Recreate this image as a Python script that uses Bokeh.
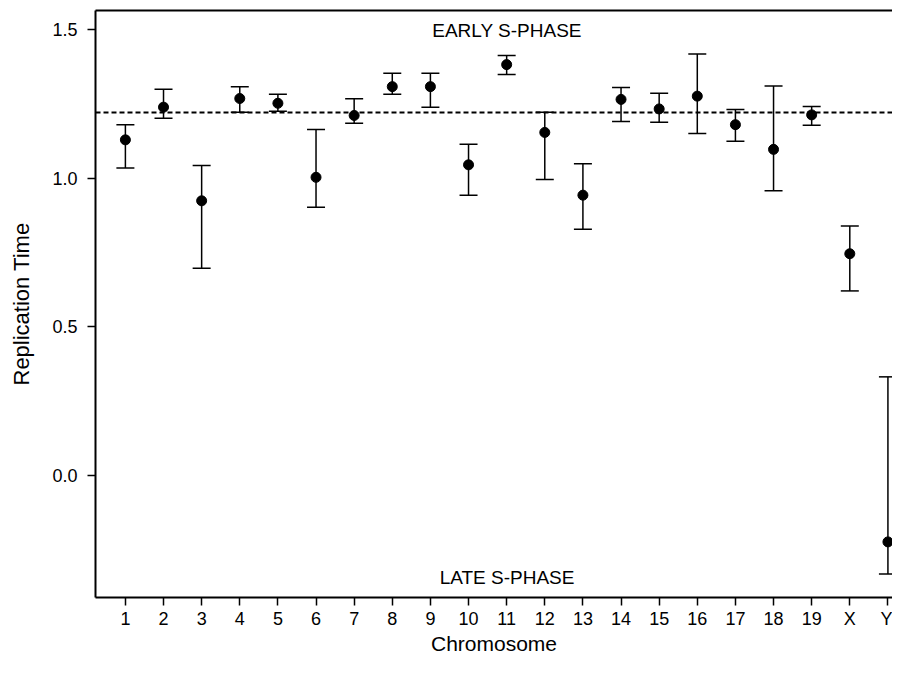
from bokeh.plotting import figure
from bokeh.models import ColumnDataSource, Whisker, TeeHead, Span, FixedTicker, LinearAxis, Label, Range1d
from bokeh.embed import file_html
from bokeh.resources import INLINE

chromosomes = ["1", "2", "3", "4", "5", "6", "7", "8", "9", "10", "11", "12", "13",
               "14", "15", "16", "17", "18", "19", "X", "Y"]
rep_time = [1.129, 1.239, 0.924, 1.268, 1.252, 1.003, 1.211, 1.308, 1.308, 1.045, 1.382,
            1.154, 0.943, 1.265, 1.233, 1.276, 1.180, 1.097, 1.213, 0.746, -0.223]
upper = [1.180, 1.299, 1.043, 1.308, 1.282, 1.164, 1.267, 1.353, 1.353, 1.114, 1.413,
         1.222, 1.049, 1.305, 1.286, 1.418, 1.231, 1.310, 1.241, 0.839, 0.332]
lower = [1.034, 1.202, 0.697, 1.222, 1.225, 0.902, 1.185, 1.282, 1.239, 0.943, 1.349,
         0.996, 0.828, 1.191, 1.188, 1.150, 1.124, 0.958, 1.178, 0.621, -0.331]
genome_mean = 1.221
y_ticks = [0.0, 0.5, 1.0, 1.5]

xpos = list(range(1, len(chromosomes) + 1))
src = ColumnDataSource(dict(x=xpos, y=rep_time, up=upper, lo=lower))

FONT = "Liberation Sans"

p = figure(width=892, height=657, output_backend="svg", toolbar_location=None,
           x_range=Range1d(0.216, 21.12), y_range=Range1d(-0.41, 1.564),
           min_border_left=95, min_border_right=0, min_border_top=10, min_border_bottom=50)
p.background_fill_color = "white"
p.border_fill_color = "white"
p.outline_line_color = None
p.grid.visible = False

bottom = p.below[0]
left = p.left[0]

# top frame line
top_axis = LinearAxis(major_tick_line_color=None, minor_tick_line_color=None,
                      major_label_text_font_size="0px", axis_line_width=2,
                      major_label_standoff=0)
p.add_layout(top_axis, "above")

bottom.ticker = FixedTicker(ticks=xpos)
bottom.major_label_overrides = {x: c for x, c in zip(xpos, chromosomes)}
left.ticker = FixedTicker(ticks=y_ticks)
left.major_label_overrides = {0.0: "0.0", 0.5: "0.5", 1.0: "1.0", 1.5: "1.5"}

for ax in [bottom, left]:
    ax.axis_line_width = 2
    ax.axis_line_color = "black"
    ax.major_tick_line_width = 1.5
    ax.major_tick_line_color = "black"
    ax.major_tick_in = 0
    ax.major_tick_out = 8
    ax.minor_tick_line_color = None
    ax.major_label_text_font = FONT
    ax.major_label_text_font_size = "18px"
    ax.major_label_text_color = "black"
    ax.axis_label_text_font = FONT
    ax.axis_label_text_font_size = "22px"
    ax.axis_label_text_font_style = "normal"
    ax.axis_label_text_color = "black"

bottom.axis_label = "Chromosome"
bottom.axis_label_text_font_size = "21px"
bottom.major_label_standoff = 3
bottom.axis_label_standoff = 0
left.axis_label = "Replication Time"
left.major_label_standoff = 10
left.axis_label_standoff = 15

p.add_layout(Span(location=genome_mean, dimension="width", line_color="black",
                  line_width=2, line_dash="5 3"))

w = Whisker(source=src, base="x", upper="up", lower="lo", line_color="black", line_width=1.5,
            upper_head=TeeHead(size=18, line_color="black", line_width=1.5),
            lower_head=TeeHead(size=18, line_color="black", line_width=1.5))
p.add_layout(w)
p.scatter("x", "y", source=src, size=10, color="black")

p.add_layout(Label(x=11.01, y=1.497, text="EARLY S-PHASE", text_font=FONT, text_color="black",
                   text_font_size="19px", text_align="center", text_baseline="middle"))
p.add_layout(Label(x=11.01, y=-0.343, text="LATE S-PHASE", text_font=FONT, text_color="black",
                   text_font_size="19px", text_align="center", text_baseline="middle"))

open("out.html", "w").write(file_html(p, INLINE))
